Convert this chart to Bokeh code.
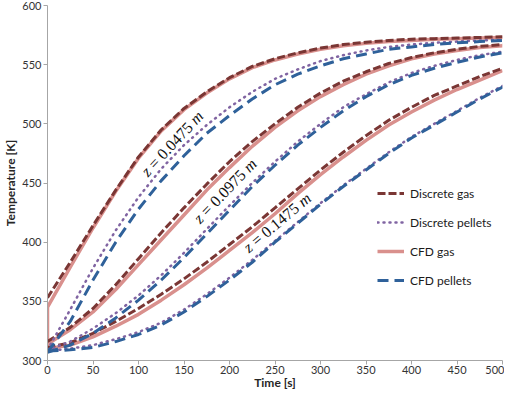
import math
from bokeh.plotting import figure
from bokeh.models import Range1d, FixedTicker, Legend, LegendItem, ColumnDataSource
from bokeh.core.properties import value
from bokeh.embed import file_html
from bokeh.resources import INLINE

# ---------------- data ----------------
time_s = [0, 25, 50, 75, 100, 125, 150, 175, 200, 225, 250, 275, 300,
          325, 350, 375, 400, 425, 450, 475, 500]

# z = 0.0475 m
disc_gas_1 = [353, 383, 414, 444, 472, 495, 513, 527, 539, 548.5, 555, 560, 564,
              567, 569, 570.5, 571.5, 572, 572.5, 573, 573.5]
disc_pel_1 = [309, 343, 378, 410, 438, 462, 482, 499, 514, 527, 538, 546, 553,
              558, 562, 565, 567, 568.5, 569.5, 570.5, 571]
cfd_gas_1_start = 310
cfd_gas_1 = [345, 379, 412, 443, 471, 494, 512, 526, 538, 547.5, 554, 559, 563,
             566, 568, 569.5, 570.5, 571.5, 572, 572.5, 573]
cfd_pel_1 = [307, 333, 368, 400, 428, 452, 473, 492, 507, 521, 533, 542, 549,
             555, 559, 563, 565, 567, 568.5, 569.5, 570.5]

# z = 0.0975 m
disc_gas_2 = [316, 328, 344, 364, 386, 408, 429, 449, 468, 485, 500, 514, 526,
              536, 544, 551, 556, 560, 563, 565.5, 567]
disc_pel_2 = [309, 316, 327, 340, 355, 372, 391, 411, 431, 450, 468, 485, 500,
              514, 525, 535, 543, 549, 554, 558, 561]
cfd_gas_2 = [314, 326, 341, 360, 381, 402, 423, 444, 463, 481, 497, 511, 523,
             533, 542, 549, 555, 559, 562, 564.5, 566]
cfd_pel_2 = [307, 313, 323, 336, 351, 368, 387, 407, 427, 447, 465, 482, 497,
             511, 523, 533, 541, 547, 552, 556.5, 560]

# z = 0.1475 m
disc_gas_3 = [311, 315, 323, 333, 344, 356, 369, 383, 398, 413, 429, 445, 461,
              476, 490, 503, 514, 524, 532, 540, 547]
disc_pel_3 = [308, 310, 313, 318, 324, 332, 343, 356, 370, 385, 401, 417, 433,
              448, 462, 476, 489, 500, 511, 522, 532]
cfd_gas_3 = [310, 313, 320, 329, 339, 351, 364, 378, 393, 408, 424, 441, 457,
             472, 486, 499, 510, 520, 529, 537, 545]
cfd_pel_3 = [308, 309, 311, 316, 322, 330, 341, 354, 368, 383, 400, 416, 432,
             447, 461, 475, 488, 499, 510, 521, 531]

series_names = ["Discrete gas", "Discrete pellets", "CFD gas", "CFD pellets"]

x_ticks = [0, 50, 100, 150, 200, 250, 300, 350, 400, 450, 500]
y_ticks = [300, 350, 400, 450, 500, 550, 600]

z_labels = ["z = 0.0475 m", "z = 0.0975 m", "z = 0.1475 m"]
z_label_t = [139, 197, 254]
z_label_T = [482, 442, 415]
z_label_angle_deg = [47, 46, 40]

# ---------------- styles ----------------
C_DGAS = "#7A3634"
C_DPEL = "#8064A2"
C_CGAS = "#D9908D"
C_CPEL = "#2F619A"
TICK_FONT = "Lato"
AXIS_COLOR = "#A6A6A6"

p = figure(width=504, height=392, output_backend="svg", toolbar_location=None,
           x_range=Range1d(0, 500), y_range=Range1d(300, 600),
           min_border_left=40, min_border_right=2, min_border_top=5,
           min_border_bottom=20)
p.outline_line_color = None
p.xgrid.visible = False
p.ygrid.visible = False
p.background_fill_color = "white"

for ax in (p.xaxis[0], p.yaxis[0]):
    ax.axis_line_color = AXIS_COLOR
    ax.major_tick_line_color = AXIS_COLOR
    ax.major_tick_out = 4
    ax.major_tick_in = 0
    ax.minor_tick_line_color = None
    ax.major_label_text_font = TICK_FONT
    ax.major_label_text_font_size = "11px"
    ax.major_label_text_color = "#333333"
    ax.axis_label_text_font = TICK_FONT
    ax.axis_label_text_font_size = "12px"
    ax.axis_label_text_font_style = "bold"
    ax.axis_label_text_color = "#262626"
    ax.major_label_standoff = 2
    ax.axis_label_standoff = 1
p.xaxis[0].major_label_standoff = 1
p.xaxis[0].axis_label_standoff = -2

p.xaxis.ticker = FixedTicker(ticks=x_ticks)
p.yaxis.ticker = FixedTicker(ticks=y_ticks)
p.xaxis.axis_label = "Time [s]"
p.yaxis.axis_label = "Temperature [K]"

# draw order: CFD gas, discrete gas, discrete pellets, CFD pellets
r_cgas = []
r_cgas.append(p.line([0] + time_s, [cfd_gas_1_start] + cfd_gas_1,
                     line_color=C_CGAS, line_width=3.5))
for ys in (cfd_gas_2, cfd_gas_3):
    r_cgas.append(p.line(time_s, ys, line_color=C_CGAS, line_width=3.5))

r_dgas = [p.line(time_s, ys, line_color=C_DGAS, line_width=3, line_dash="8 3")
          for ys in (disc_gas_1, disc_gas_2, disc_gas_3)]
r_dpel = [p.line(time_s, ys, line_color=C_DPEL, line_width=2.5, line_dash="1 5",
                 line_cap="round")
          for ys in (disc_pel_1, disc_pel_2, disc_pel_3)]
r_cpel = [p.line(time_s, ys, line_color=C_CPEL, line_width=3, line_dash="11 6")
          for ys in (cfd_pel_1, cfd_pel_2, cfd_pel_3)]

legend = Legend(items=[
    LegendItem(label=series_names[0], renderers=[r_dgas[0]]),
    LegendItem(label=series_names[1], renderers=[r_dpel[0]]),
    LegendItem(label=series_names[2], renderers=[r_cgas[1]]),
    LegendItem(label=series_names[3], renderers=[r_cpel[0]]),
], location=(330, 70))
legend.padding = 0
legend.margin = 0
legend.border_line_color = None
legend.background_fill_alpha = 0
legend.glyph_width = 27
legend.glyph_height = 20
legend.label_height = 20
legend.spacing = 9
legend.label_standoff = 6
legend.label_text_font = TICK_FONT
legend.label_text_font_size = "12px"
legend.label_text_color = "#1a1a1a"
p.add_layout(legend)

# rotated z labels: italic "z", normal "= value", italic "m"
FS = 16
w_z = 0.389 * FS
w_sp = 0.25 * FS
w_m = 0.722 * FS
parts = {"z": [], "mid": [], "m": []}
for lab, t, T, adeg in zip(z_labels, z_label_t, z_label_T, z_label_angle_deg):
    zz, rest = lab.split(" ", 1)
    mid, mm = rest.rsplit(" ", 1)
    w_mid = (0.564 + 0.25 + 0.5 * 5 + 0.25) * FS
    total = w_z + w_sp + w_mid + w_sp + w_m
    a = math.radians(adeg)
    starts = [-total / 2, -total / 2 + w_z + w_sp,
              -total / 2 + w_z + w_sp + w_mid + w_sp]
    b = -0.15 * FS
    for key, txt, d in zip(("z", "mid", "m"), (zz, mid, mm), starts):
        xo = d * math.cos(a) + b * math.sin(a)
        yo = -d * math.sin(a) + b * math.cos(a)
        parts[key].append(dict(x=t, y=T, text=txt, angle=a, xo=xo, yo=yo))

for key, style in (("z", "italic"), ("mid", "normal"), ("m", "italic")):
    rows = parts[key]
    src = ColumnDataSource(dict(
        x=[r["x"] for r in rows], y=[r["y"] for r in rows],
        text=[r["text"] for r in rows], angle=[r["angle"] for r in rows],
        xo=[r["xo"] for r in rows], yo=[r["yo"] for r in rows]))
    p.text(x="x", y="y", text="text", angle="angle", x_offset="xo", y_offset="yo",
           source=src, text_font=value("Liberation Serif"), text_font_size=f"{FS}px",
           text_font_style=style, text_align="left", text_baseline="alphabetic",
           text_color="#111111")

open("out.html", "w").write(file_html(p, INLINE))
